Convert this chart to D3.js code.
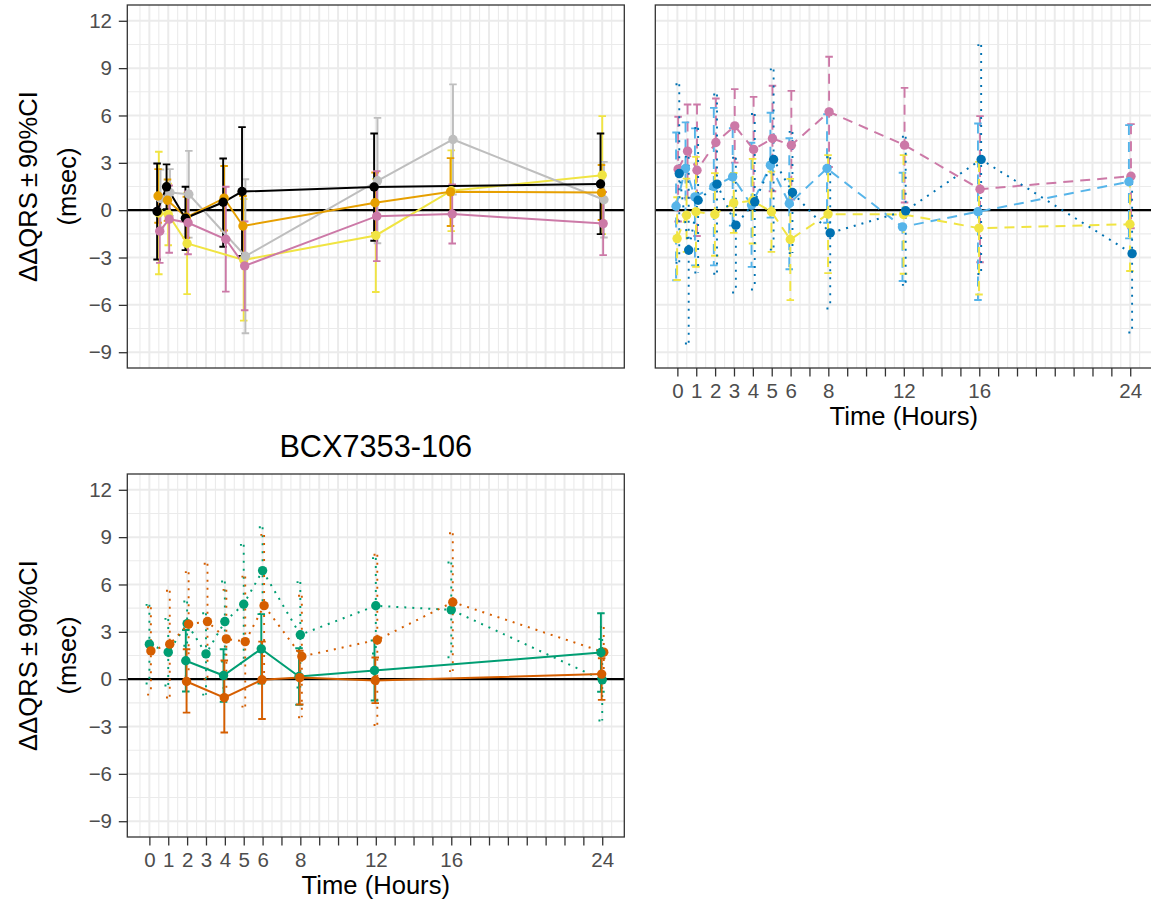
<!DOCTYPE html>
<html>
<head>
<meta charset="utf-8">
<script src="https://cdn.jsdelivr.net/npm/d3@7"></script>
<style>
  body { margin: 0; background: #fff; }
  svg text { font-family: "Liberation Sans", Arial, sans-serif; }
</style>
</head>
<body>
<svg id="chart" width="1151" height="905"></svg>
<script>
// ---- data ----
// x axis: every hour gets a tick, only some are labelled
const hourTicks = d3.range(0, 25);
const hourLabels = [0, 1, 2, 3, 4, 5, 6, 8, 12, 16, 24];
const yTicks = [-9, -6, -3, 0, 3, 6, 9, 12];

// panel 1 (top left)
const p1BlackTime = [0.5, 1, 2, 4, 5, 12, 24];
const p1BlackMean = [-0.08, 1.48, -0.51, 0.5, 1.18, 1.47, 1.66];
const p1BlackLo   = [-3.13, 0.06, -2.53, -2.32, -2.9, -1.94, -1.52];
const p1BlackHi   = [2.96, 2.9, 1.48, 3.27, 5.26, 4.86, 4.86];

const p1OrangeTime = [0.5, 1, 2, 4, 5, 12, 16, 24];
const p1OrangeMean = [0.9, 0.63, -0.45, 0.76, -1.0, 0.47, 1.16, 1.12];
const p1OrangeLo   = [-0.8, -0.68, -1.75, -1.29, -2.9, -1.45, -1.0, -0.62];
const p1OrangeHi   = [2.6, 1.94, 0.85, 2.8, 0.9, 2.39, 3.3, 2.86];

const p1YellowTime = [0.5, 1, 2, 5, 12, 16, 24];
const p1YellowMean = [-0.18, -0.27, -2.11, -3.15, -1.6, 1.23, 2.22];
const p1YellowLo   = [-4.06, -2.22, -5.32, -7.0, -5.18, -1.33, -1.52];
const p1YellowHi   = [3.7, 1.68, 1.1, 0.7, 1.98, 3.79, 5.96];

const p1PinkTime = [0.5, 1, 2, 4, 5, 12, 16, 24];
const p1PinkMean = [-1.33, -0.57, -0.8, -1.84, -3.53, -0.38, -0.24, -0.85];
const p1PinkLo   = [-3.34, -2.7, -2.79, -5.16, -6.34, -3.23, -2.11, -2.85];
const p1PinkHi   = [0.68, 1.56, 1.19, 1.48, -0.72, 2.47, 1.63, 1.15];

const p1GreyTime = [0.5, 1, 2, 5, 12, 16, 24];
const p1GreyMean = [0.74, 1.12, 1.01, -2.92, 1.86, 4.48, 0.66];
const p1GreyLo   = [-1.1, -0.36, -1.74, -7.8, -2.1, 0.99, -1.73];
const p1GreyHi   = [2.58, 2.6, 3.76, 1.96, 5.85, 7.97, 3.06];

// panel 2 (top right)
const p2Time = [0, 0.5, 1, 2, 3, 4, 5, 6, 8, 12, 16, 24];
const p2SkyMean = [0.25, 2.64, 0.84, 1.5, 2.11, 0.32, 2.85, 0.42, 2.64, -1.06, -0.1, 1.8];
const p2SkyLo   = [-4.44, -0.28, -3.5, -3.5, -0.98, -3.59, -0.47, -3.74, -0.8, -4.49, -5.69, -1.79];
const p2SkyHi   = [4.92, 5.56, 5.18, 6.48, 5.2, 4.27, 6.17, 4.56, 6.08, 2.37, 5.49, 5.39];

const p2YellowMean = [-1.8, -0.32, -0.1, -0.27, 0.46, 0.6, -0.1, -1.86, -0.25, -0.27, -1.14, -0.89];
const p2YellowLo   = [-4.42, -2.64, -3.58, -2.89, -1.44, -2.11, -2.64, -5.7, -3.99, -4.03, -5.34, -3.85];
const p2YellowHi   = [0.82, 2.0, 3.38, 2.35, 2.36, 3.25, 2.44, 1.98, 3.49, 3.49, 3.06, 2.07];

const p2PinkMean = [2.6, 3.74, 2.53, 4.29, 5.34, 3.85, 4.54, 4.12, 6.23, 4.12, 1.33, 2.15];
const p2PinkLo   = [-0.72, 0.78, -1.64, 1.5, 3.01, 0.52, 1.2, 0.68, 2.74, 0.49, -3.3, -1.15];
const p2PinkHi   = [5.92, 6.7, 6.7, 7.08, 7.67, 7.18, 7.88, 7.56, 9.72, 7.75, 5.96, 5.45];

const p2BlueMean = [2.32, -2.53, 0.63, 1.65, -0.95, 0.53, 3.21, 1.12, -1.44, -0.04, 3.21, -2.75];
const p2BlueLo   = [-3.34, -8.45, -3.95, -4.03, -5.22, -5.03, -2.5, -2.72, -6.23, -4.73, -4.04, -7.75];
const p2BlueHi   = [7.98, 3.39, 5.21, 7.33, 3.32, 6.09, 8.92, 4.96, 3.35, 4.65, 10.46, 2.25];

// panel 3 (bottom left, BCX7353-106)
const p3SolidTime = [2, 4, 6, 8, 12, 24];
const p3SolidGreenMean = [1.17, 0.23, 1.92, 0.17, 0.55, 1.69];
const p3SolidGreenLo   = [-0.78, -1.44, -0.28, -1.62, -1.35, -0.8];
const p3SolidGreenHi   = [3.12, 1.9, 4.12, 1.96, 2.45, 4.18];

const p3SolidVermMean = [-0.15, -1.17, -0.04, 0.1, -0.08, 0.32];
const p3SolidVermLo   = [-2.12, -3.38, -2.52, -1.6, -1.52, -1.31];
const p3SolidVermHi   = [1.9, 1.18, 2.38, 1.8, 1.37, 1.33];

const p3DotTime = [0, 1, 2, 3, 4, 5, 6, 8, 12, 16, 24];
const p3DotGreenMean = [2.22, 1.71, 3.52, 1.6, 3.65, 4.75, 6.88, 2.81, 4.65, 4.39, -0.04];
const p3DotGreenLo   = [-0.27, -0.4, 2.12, -0.98, 1.11, 0.99, 4.13, -0.53, 1.63, 1.39, -2.62];
const p3DotGreenHi   = [4.71, 3.82, 4.92, 4.18, 6.19, 8.51, 9.63, 6.15, 7.67, 7.39, 2.54];

const p3DotVermMean = [1.79, 2.22, 3.49, 3.65, 2.55, 2.38, 4.66, 1.44, 2.49, 4.88, 1.71];
const p3DotVermLo   = [-0.98, -1.16, 0.2, -0.01, -0.56, -1.74, 0.18, -2.41, -2.9, 0.51, 0.11];
const p3DotVermHi   = [4.56, 5.6, 6.78, 7.31, 5.66, 6.5, 9.14, 5.29, 7.88, 9.25, 3.31];

// ---- styling ----
const DASHED = '10,7';
const DOTTED = '2,6';

function series(t, m, lo, hi, color, dash, dx) {
  return { rows: t.map((d, i) => ({ t: d, m: m[i], lo: lo[i], hi: hi[i] })), color, dash, dx };
}

const panelW = 497, panelH = 363;
const xDomain = [-1.17, 25.17];
const yDomain = [-10, 13];

const panels = [
  {
    left: 127.3, top: 5, axisX: false, axisY: true,
    series: [
      series(p1YellowTime, p1YellowMean, p1YellowLo, p1YellowHi, '#F0E442', null, 0),
      series(p1GreyTime, p1GreyMean, p1GreyLo, p1GreyHi, '#BEBEBE', null, 0.09),
      series(p1OrangeTime, p1OrangeMean, p1OrangeLo, p1OrangeHi, '#E69F00', null, -0.04),
      series(p1BlackTime, p1BlackMean, p1BlackLo, p1BlackHi, '#000000', null, -0.09),
      series(p1PinkTime, p1PinkMean, p1PinkLo, p1PinkHi, '#CC79A7', null, 0.05)
    ]
  },
  {
    left: 655.3, top: 5, axisX: true, axisY: false,
    series: [
      series(p2Time, p2PinkMean, p2PinkLo, p2PinkHi, '#CC79A7', DASHED, 0.04),
      series(p2Time, p2SkyMean, p2SkyLo, p2SkyHi, '#56B4E9', DASHED, -0.07),
      series(p2Time, p2YellowMean, p2YellowLo, p2YellowHi, '#F0E442', DASHED, -0.015),
      series(p2Time, p2BlueMean, p2BlueLo, p2BlueHi, '#0072B2', DOTTED, 0.1)
    ]
  },
  {
    left: 127.3, top: 474, axisX: true, axisY: true, title: 'BCX7353-106',
    series: [
      series(p3DotTime, p3DotGreenMean, p3DotGreenLo, p3DotGreenHi, '#009E73', DOTTED, 0.0),
      series(p3DotTime, p3DotVermMean, p3DotVermLo, p3DotVermHi, '#D55E00', DOTTED, 0.08),
      series(p3SolidTime, p3SolidGreenMean, p3SolidGreenLo, p3SolidGreenHi, '#009E73', null, -0.07),
      series(p3SolidTime, p3SolidVermMean, p3SolidVermLo, p3SolidVermHi, '#D55E00', null, -0.03)
    ]
  }
];

const svg = d3.select('#chart');
svg.append('rect').attr('width', 1151).attr('height', 905).attr('fill', '#fff');

panels.forEach(drawPanel);

function drawPanel(p) {
  const x = d3.scaleLinear().domain(xDomain).range([0, panelW]);
  const y = d3.scaleLinear().domain(yDomain).range([panelH, 0]);
  const g = svg.append('g').attr('transform', `translate(${p.left},${p.top})`);

  g.append('rect').attr('width', panelW).attr('height', panelH).attr('fill', '#fff');

  // grid
  const grid = g.append('g').attr('stroke', '#EBEBEB');
  grid.selectAll('.vmin').data(d3.range(-0.5, 25, 1)).enter().append('line')
    .attr('x1', d => x(d)).attr('x2', d => x(d)).attr('y1', 0).attr('y2', panelH)
    .attr('stroke-width', 1.1);
  grid.selectAll('.hmin').data(d3.range(-7.5, 12, 3)).enter().append('line')
    .attr('y1', d => y(d)).attr('y2', d => y(d)).attr('x1', 0).attr('x2', panelW)
    .attr('stroke-width', 1.1);
  grid.selectAll('.vmaj').data(hourTicks).enter().append('line')
    .attr('x1', d => x(d)).attr('x2', d => x(d)).attr('y1', 0).attr('y2', panelH)
    .attr('stroke-width', 2);
  grid.selectAll('.hmaj').data(yTicks).enter().append('line')
    .attr('y1', d => y(d)).attr('y2', d => y(d)).attr('x1', 0).attr('x2', panelW)
    .attr('stroke-width', 2);

  // reference line at zero
  g.append('line')
    .attr('x1', 0).attr('x2', panelW).attr('y1', y(0)).attr('y2', y(0))
    .attr('stroke', '#000').attr('stroke-width', 2.2);

  const cap = 0.2;
  // error bars
  p.series.forEach(s => {
    g.append('g').selectAll('path').data(s.rows).enter().append('path')
      .attr('d', d => {
        const xc = x(d.t + s.dx), xl = x(d.t + s.dx - cap), xr = x(d.t + s.dx + cap);
        return `M${xl},${y(d.hi)}H${xr}M${xc},${y(d.hi)}V${y(d.lo)}M${xl},${y(d.lo)}H${xr}`;
      })
      .attr('fill', 'none')
      .attr('stroke', s.color)
      .attr('stroke-width', 1.9)
      .attr('stroke-dasharray', s.dash);
  });

  // lines
  const line = d3.line();
  p.series.forEach(s => {
    line.x(d => x(d.t + s.dx)).y(d => y(d.m));
    g.append('path').datum(s.rows)
      .attr('d', line)
      .attr('fill', 'none')
      .attr('stroke', s.color)
      .attr('stroke-width', 2)
      .attr('stroke-dasharray', s.dash);
  });

  // points
  p.series.forEach(s => {
    g.append('g').selectAll('circle').data(s.rows).enter().append('circle')
      .attr('cx', d => x(d.t + s.dx))
      .attr('cy', d => y(d.m))
      .attr('r', 4.7)
      .attr('fill', s.color);
  });

  g.append('rect').attr('width', panelW).attr('height', panelH)
    .attr('fill', 'none').attr('stroke', '#333333').attr('stroke-width', 1.3);

  if (p.axisY) {
    const ay = g.append('g')
      .call(d3.axisLeft(y).tickValues(yTicks).tickSize(8.5).tickPadding(6.8));
    styleAxis(ay);
    const yc = p.top + panelH / 2;
    svg.append('text')
      .attr('transform', `translate(37,${yc}) rotate(-90)`)
      .attr('text-anchor', 'middle').attr('font-size', 25.6).attr('fill', '#000')
      .text('\u0394\u0394QRS\u2009\u00b1\u200990%CI');
    svg.append('text')
      .attr('transform', `translate(76,${yc}) rotate(-90)`)
      .attr('text-anchor', 'middle').attr('font-size', 25.6).attr('fill', '#000')
      .text('(msec)');
  }

  if (p.axisX) {
    const ax = g.append('g').attr('transform', `translate(0,${panelH})`)
      .call(d3.axisBottom(x).tickValues(hourTicks)
        .tickFormat(d => hourLabels.includes(d) ? d : '')
        .tickSize(8.5).tickPadding(6.8));
    styleAxis(ax);
    svg.append('text')
      .attr('x', p.left + panelW / 2).attr('y', p.top + panelH + 56.5)
      .attr('text-anchor', 'middle').attr('font-size', 25.6).attr('fill', '#000')
      .text('Time (Hours)');
  }

  if (p.title) {
    svg.append('text')
      .attr('x', p.left + panelW / 2).attr('y', p.top - 17)
      .attr('text-anchor', 'middle').attr('font-size', 30.7).attr('fill', '#000')
      .text(p.title);
  }
}

function styleAxis(a) {
  a.attr('font-family', '"Liberation Sans", Arial, sans-serif').attr('font-size', 20.5);
  a.select('.domain').remove();
  a.selectAll('.tick line').attr('stroke', '#333333').attr('stroke-width', 1.3);
  a.selectAll('.tick text').attr('fill', '#4D4D4D');
}
</script>
</body>
</html>
